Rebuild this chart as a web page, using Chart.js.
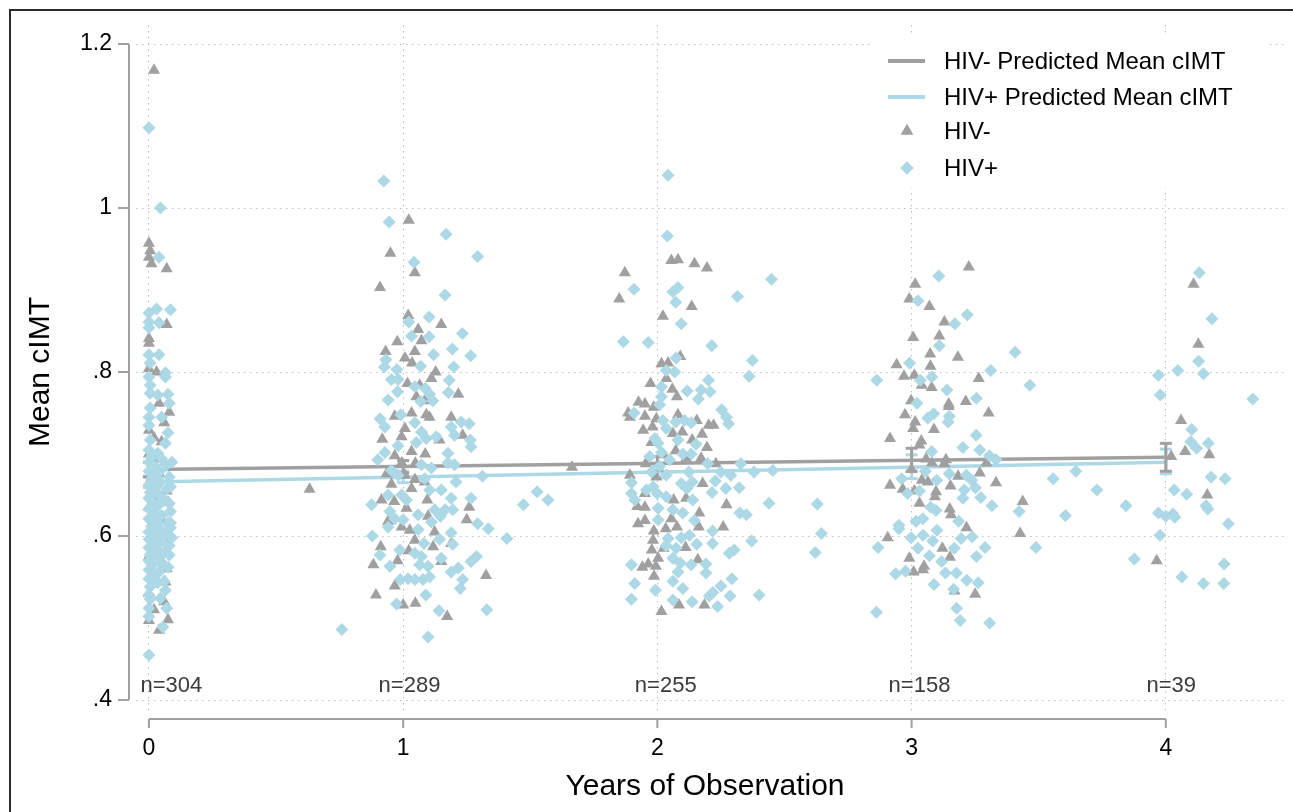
<!DOCTYPE html>
<html>
<head>
<meta charset="utf-8">
<script src="https://cdn.jsdelivr.net/npm/chart.js@4.4.1/dist/chart.umd.min.js"></script>
<style>
  body { margin: 0; background: #fff; }
  #wrap { width: 1293px; height: 812px; }
</style>
</head>
<body>
<div id="wrap"><canvas id="grafico" width="1293" height="812"></canvas></div>
<script>
// ticks and labels
var yearTicks = [0, 1, 2, 3, 4];
var yTicks = [0.4, 0.6, 0.8, 1.0, 1.2];
var yTickLabels = ['.4', '.6', '.8', '1', '1.2'];
var nLabels = ['n=304', 'n=289', 'n=255', 'n=158', 'n=39'];
var nLabelX = [0.088, 1.025, 2.033, 3.031, 4.021];

// predicted mean cIMT (line ends) and confidence intervals per year
var predNeg = [0.681, 0.696];
var predPos = [0.666, 0.690];
var ciNegLow = [0.672, 0.677, 0.680, 0.679, 0.679];
var ciNegHigh = [0.690, 0.692, 0.697, 0.707, 0.713];
var ciPosLow = [0.659, 0.665, 0.671, 0.670, 0.676];
var ciPosHigh = [0.673, 0.679, 0.685, 0.699, 0.706];

// HIV- observations [year, cIMT]
var hivNegY0 = [[0.02,1.168],[0.0,0.957],[0.005,0.948],[0.0,0.940],[0.01,0.932],[0.07,0.926],[0.07,0.858],[0.0,0.841],[0.0,0.835],[0.0,0.804],[0.03,0.800],[0.04,0.762],[0.08,0.751],[0.06,0.738],[0.0,0.729],[0.02,0.72],[0.05,0.715],[0.0,0.70],[0.03,0.694],[0.06,0.688],[0.01,0.682],[0.04,0.676],[0.0,0.665],[0.07,0.655],[0.02,0.648],[0.075,0.641],[0.0,0.635],[0.05,0.62],[0.01,0.608],[0.06,0.598],[0.03,0.585],[0.0,0.575],[0.07,0.56],[0.065,0.544],[0.0,0.53],[0.06,0.52],[0.075,0.498],[0.0,0.497],[0.04,0.485],[0.02,0.51]];
var hivNegY1 = [[1.022,0.985],[0.950,0.945],[1.046,0.921],[0.909,0.903],[1.020,0.869],[1.150,0.858],[1.059,0.852],[0.977,0.837],[1.072,0.838],[0.931,0.825],[1.007,0.817],[1.046,0.825],[1.035,0.811],[1.128,0.800],[1.111,0.792],[1.017,0.786],[1.065,0.784],[1.217,0.773],[1.052,0.770],[1.085,0.765],[0.967,0.746],[1.033,0.750],[1.091,0.748],[1.104,0.745],[1.189,0.745],[1.007,0.731],[0.918,0.718],[0.994,0.721],[1.143,0.717],[1.234,0.723],[1.033,0.703],[1.087,0.700],[0.967,0.698],[0.994,0.689],[1.048,0.689],[0.935,0.676],[1.007,0.674],[1.046,0.669],[1.085,0.666],[0.632,0.657],[0.954,0.663],[1.033,0.658],[0.915,0.644],[0.965,0.642],[1.095,0.644],[1.260,0.635],[1.013,0.634],[1.098,0.624],[1.250,0.620],[0.941,0.618],[0.994,0.611],[1.026,0.607],[1.124,0.605],[1.046,0.595],[0.912,0.587],[1.118,0.587],[1.189,0.591],[1.022,0.582],[0.883,0.565],[0.978,0.570],[1.150,0.569],[1.326,0.552],[0.967,0.539],[0.893,0.528],[1.000,0.516],[1.048,0.518],[1.173,0.502]];
var hivNegY2 = [[1.664,0.684],[1.872,0.921],[1.850,0.889],[2.055,0.936],[2.081,0.937],[2.146,0.932],[2.195,0.927],[2.135,0.880],[2.022,0.868],[2.090,0.819],[2.016,0.810],[2.042,0.811],[2.035,0.792],[1.973,0.786],[2.059,0.779],[2.077,0.770],[1.926,0.763],[1.951,0.761],[1.986,0.757],[1.885,0.750],[1.892,0.745],[1.951,0.746],[1.996,0.743],[2.081,0.748],[2.155,0.741],[2.202,0.735],[2.221,0.735],[1.944,0.729],[1.981,0.733],[2.061,0.725],[2.098,0.727],[2.176,0.724],[1.977,0.714],[2.137,0.717],[2.195,0.708],[2.072,0.704],[2.025,0.699],[2.113,0.695],[2.172,0.695],[1.954,0.688],[2.230,0.688],[1.892,0.674],[1.996,0.672],[2.178,0.664],[1.951,0.652],[1.921,0.636],[1.951,0.635],[2.064,0.644],[2.113,0.646],[2.165,0.628],[2.272,0.638],[1.924,0.615],[1.951,0.619],[1.986,0.606],[2.033,0.609],[2.055,0.621],[2.077,0.611],[2.163,0.611],[2.259,0.611],[1.983,0.595],[2.025,0.585],[2.111,0.586],[1.978,0.583],[2.003,0.573],[2.159,0.571],[1.941,0.562],[1.964,0.566],[1.994,0.563],[1.987,0.551],[2.085,0.516],[2.185,0.516],[2.016,0.508]];
var hivNegY3 = [[3.225,0.928],[3.014,0.907],[2.991,0.889],[3.070,0.880],[3.129,0.861],[3.006,0.842],[3.109,0.844],[3.073,0.822],[3.182,0.818],[2.941,0.809],[3.074,0.807],[2.970,0.795],[3.011,0.796],[3.040,0.784],[3.079,0.781],[3.264,0.792],[2.998,0.765],[3.146,0.761],[3.146,0.758],[3.213,0.764],[3.303,0.750],[2.974,0.748],[3.014,0.739],[3.006,0.731],[3.088,0.730],[2.915,0.719],[3.038,0.716],[3.031,0.711],[3.057,0.694],[3.080,0.689],[3.135,0.693],[3.129,0.688],[3.294,0.689],[2.999,0.681],[3.183,0.673],[3.268,0.677],[3.040,0.668],[3.064,0.666],[2.915,0.662],[2.965,0.657],[3.153,0.661],[3.332,0.665],[3.011,0.655],[3.096,0.654],[3.092,0.648],[3.031,0.640],[3.150,0.633],[3.155,0.626],[3.437,0.642],[3.216,0.610],[2.906,0.598],[3.427,0.603],[3.121,0.585],[3.151,0.574],[2.991,0.573],[3.049,0.563],[3.008,0.556],[3.045,0.559],[3.169,0.533],[3.250,0.529]];
var hivNegY4 = [[4.109,0.907],[4.128,0.834],[4.060,0.741],[4.076,0.703],[4.021,0.697],[4.171,0.699],[4.163,0.650],[3.964,0.570]];

// HIV+ observations [year, cIMT]
var hivPosY0 = [[0.0,1.098],[0.045,1.0],[0.04,0.940],[0.0,0.872],[0.03,0.877],[0.085,0.876],[0.0,0.861],[0.0,0.854],[0.04,0.860],[0.0,0.821],[0.04,0.821],[0.005,0.811],[0.065,0.799],[0.065,0.794],[0.0,0.794],[0.005,0.784],[0.005,0.774],[0.035,0.772],[0.075,0.773],[0.08,0.762],[0.005,0.756],[0.0,0.745],[0.05,0.745],[0.0,0.735],[0.075,0.726],[0.065,0.713],[0.005,0.717],[0.0,0.705],[0.035,0.701],[0.01,0.697],[0.05,0.694],[0.0,0.690],[0.02,0.686],[0.06,0.684],[0.0,0.679],[0.035,0.676],[0.08,0.672],[0.01,0.670],[0.045,0.666],[0.0,0.662],[0.025,0.659],[0.07,0.657],[0.005,0.653],[0.04,0.650],[0.0,0.646],[0.06,0.644],[0.015,0.641],[0.035,0.637],[0.0,0.633],[0.085,0.630],[0.02,0.628],[0.05,0.625],[0.0,0.621],[0.03,0.618],[0.075,0.616],[0.01,0.612],[0.045,0.609],[0.0,0.605],[0.065,0.603],[0.025,0.600],[0.0,0.596],[0.05,0.594],[0.015,0.591],[0.08,0.588],[0.0,0.586],[0.035,0.583],[0.06,0.580],[0.005,0.577],[0.03,0.574],[0.0,0.570],[0.05,0.568],[0.015,0.565],[0.075,0.562],[0.0,0.559],[0.04,0.556],[0.02,0.552],[0.0,0.548],[0.06,0.545],[0.035,0.543],[0.005,0.538],[0.065,0.534],[0.0,0.528],[0.045,0.524],[0.005,0.523],[0.0,0.512],[0.07,0.512],[0.0,0.502],[0.055,0.489],[0.0,0.455],[0.09,0.69],[0.085,0.66],[0.08,0.64],[0.085,0.61],[0.09,0.598],[0.08,0.577],[0.085,0.616]];
var hivPosY1 = [[0.924,1.033],[0.945,0.983],[1.169,0.968],[1.043,0.934],[1.293,0.941],[1.165,0.894],[1.102,0.867],[1.022,0.861],[1.033,0.844],[1.233,0.847],[1.102,0.843],[1.120,0.821],[1.194,0.828],[1.266,0.820],[0.932,0.815],[0.926,0.806],[1.069,0.807],[0.975,0.803],[1.199,0.806],[0.954,0.791],[0.980,0.791],[1.181,0.790],[1.046,0.782],[1.087,0.780],[0.978,0.776],[1.178,0.775],[0.941,0.766],[1.069,0.764],[1.104,0.773],[1.117,0.765],[0.909,0.743],[0.928,0.733],[0.991,0.748],[1.046,0.738],[1.072,0.727],[1.130,0.721],[1.189,0.733],[1.228,0.739],[1.260,0.737],[1.202,0.723],[1.264,0.717],[1.267,0.709],[0.980,0.710],[1.052,0.714],[1.091,0.719],[0.900,0.693],[0.928,0.702],[1.176,0.701],[1.176,0.689],[1.202,0.687],[0.954,0.680],[0.980,0.674],[1.072,0.687],[1.111,0.683],[1.312,0.673],[1.085,0.670],[1.208,0.666],[1.104,0.656],[1.150,0.656],[0.941,0.650],[0.994,0.650],[1.013,0.644],[0.876,0.638],[1.189,0.646],[1.267,0.646],[0.948,0.630],[1.124,0.632],[1.165,0.632],[1.195,0.632],[0.967,0.621],[1.000,0.620],[1.059,0.626],[1.111,0.617],[1.147,0.624],[1.293,0.615],[1.335,0.609],[1.408,0.597],[0.879,0.600],[0.941,0.611],[1.059,0.608],[1.143,0.596],[1.189,0.604],[1.082,0.591],[1.195,0.590],[0.909,0.577],[0.948,0.563],[0.987,0.583],[1.046,0.579],[1.072,0.575],[1.150,0.573],[1.065,0.565],[1.098,0.563],[1.217,0.561],[1.267,0.569],[1.289,0.575],[0.988,0.547],[1.019,0.548],[1.046,0.547],[1.078,0.547],[1.104,0.550],[1.189,0.556],[1.234,0.547],[1.225,0.536],[1.089,0.528],[0.974,0.517],[1.141,0.509],[1.329,0.510],[0.759,0.486],[1.098,0.477],[1.473,0.638],[1.527,0.654],[1.570,0.644]];
var hivPosY2 = [[2.042,1.040],[2.039,0.966],[2.449,0.913],[1.908,0.901],[2.061,0.898],[2.081,0.903],[2.072,0.885],[2.315,0.892],[2.094,0.859],[1.866,0.837],[1.964,0.836],[2.214,0.832],[2.374,0.814],[2.074,0.817],[2.035,0.802],[2.068,0.800],[2.361,0.795],[2.201,0.790],[2.117,0.777],[2.172,0.778],[2.207,0.776],[2.161,0.767],[2.016,0.782],[2.016,0.770],[2.009,0.760],[2.253,0.754],[2.272,0.745],[2.280,0.737],[1.908,0.750],[2.022,0.741],[2.072,0.739],[2.107,0.741],[2.133,0.738],[2.035,0.731],[1.990,0.719],[2.081,0.717],[2.003,0.713],[2.152,0.712],[2.016,0.702],[2.100,0.700],[2.133,0.700],[1.970,0.697],[2.048,0.693],[2.198,0.688],[2.328,0.688],[2.009,0.685],[1.977,0.678],[2.124,0.678],[2.250,0.678],[2.380,0.678],[2.454,0.680],[2.035,0.674],[2.289,0.674],[1.898,0.665],[2.094,0.664],[2.137,0.666],[2.228,0.667],[1.983,0.660],[2.116,0.658],[2.269,0.658],[2.322,0.659],[1.898,0.652],[1.957,0.656],[1.999,0.652],[2.035,0.648],[2.215,0.653],[1.911,0.644],[2.139,0.644],[2.439,0.640],[2.003,0.634],[2.061,0.632],[2.100,0.628],[2.324,0.628],[2.350,0.626],[2.003,0.620],[2.146,0.619],[2.042,0.597],[2.094,0.598],[2.126,0.601],[2.217,0.606],[2.155,0.590],[2.217,0.591],[2.371,0.594],[2.035,0.588],[2.074,0.585],[2.283,0.579],[2.302,0.583],[1.898,0.565],[2.061,0.573],[2.090,0.567],[2.133,0.565],[2.191,0.566],[2.191,0.555],[2.081,0.556],[1.911,0.542],[2.061,0.545],[2.100,0.536],[1.992,0.534],[2.218,0.531],[2.250,0.539],[2.293,0.548],[2.286,0.527],[2.400,0.528],[2.204,0.527],[1.898,0.523],[2.061,0.522],[2.137,0.520],[2.237,0.514],[2.629,0.639],[2.645,0.603],[2.621,0.580]];
var hivPosY3 = [[3.107,0.917],[3.025,0.887],[3.219,0.870],[3.170,0.859],[3.109,0.832],[3.407,0.824],[2.992,0.811],[3.311,0.802],[2.863,0.790],[3.034,0.790],[3.080,0.794],[3.465,0.784],[3.139,0.778],[3.255,0.768],[3.021,0.762],[3.064,0.744],[3.087,0.749],[3.148,0.746],[3.144,0.739],[3.254,0.723],[3.202,0.708],[3.268,0.705],[3.079,0.703],[3.306,0.698],[3.332,0.693],[2.961,0.670],[3.054,0.679],[3.099,0.668],[3.148,0.676],[3.215,0.674],[3.237,0.668],[3.251,0.659],[3.557,0.670],[3.646,0.679],[3.729,0.656],[2.984,0.652],[3.031,0.655],[3.207,0.656],[3.202,0.646],[3.272,0.647],[3.316,0.637],[3.075,0.635],[3.096,0.631],[3.423,0.630],[3.605,0.625],[3.185,0.618],[3.017,0.618],[3.044,0.621],[2.950,0.613],[2.950,0.609],[3.100,0.607],[3.045,0.601],[2.998,0.598],[3.195,0.597],[3.238,0.599],[3.083,0.594],[2.868,0.586],[3.025,0.585],[3.168,0.585],[3.289,0.586],[3.489,0.586],[3.070,0.576],[3.255,0.575],[3.118,0.569],[2.937,0.554],[2.976,0.557],[3.133,0.555],[3.176,0.555],[3.217,0.546],[3.262,0.543],[3.088,0.541],[3.165,0.535],[2.862,0.507],[3.177,0.512],[3.191,0.497],[3.307,0.494]];
var hivPosY4 = [[4.132,0.921],[4.181,0.865],[4.129,0.813],[4.047,0.802],[3.971,0.796],[4.148,0.798],[3.978,0.772],[4.342,0.767],[4.102,0.730],[4.098,0.715],[4.121,0.707],[4.167,0.713],[4.178,0.672],[4.233,0.670],[4.033,0.656],[4.082,0.651],[3.843,0.637],[4.158,0.637],[4.165,0.633],[3.971,0.628],[4.0,0.624],[4.028,0.627],[4.035,0.623],[4.246,0.615],[3.977,0.601],[3.876,0.572],[4.229,0.566],[4.063,0.550],[4.148,0.542],[4.228,0.542]];

var cinza = '#a0a0a0';
var azul = '#add8e6';
var fonte = '"Liberation Sans", Arial, Helvetica, sans-serif';

function pontos(lista) {
    return lista.map(function (p) { return { x: p[0], y: p[1] }; });
}

function intervalos(lo, hi) {
    var d = [];
    for (var i = 0; i < yearTicks.length; i++) {
        d.push({ x: yearTicks[i], y: lo[i] });
        d.push({ x: yearTicks[i], y: hi[i] });
        d.push({ x: yearTicks[i], y: null });
    }
    return d;
}

var hivNeg = [].concat(hivNegY0, hivNegY1, hivNegY2, hivNegY3, hivNegY4);
var hivPos = [].concat(hivPosY0, hivPosY1, hivPosY2, hivPosY3, hivPosY4);

// eixos no estilo do Stata, desenhados a partir das escalas
var eixos = {
    id: 'eixos',
    afterDraw: function (chart) {
        var ctx = chart.ctx, a = chart.chartArea;
        var xs = chart.scales.x, ys = chart.scales.y;
        ctx.save();

        // moldura
        ctx.strokeStyle = '#2a2a2a';
        ctx.lineWidth = 2;
        ctx.strokeRect(10, 10, chart.width + 20, chart.height + 20);

        ctx.strokeStyle = cinza;
        ctx.lineWidth = 2;
        // eixo y
        var ax = a.left - 7;
        ctx.beginPath();
        ctx.moveTo(ax, ys.getPixelForValue(yTicks[0]));
        ctx.lineTo(ax, ys.getPixelForValue(yTicks[yTicks.length - 1]));
        ctx.stroke();
        ctx.fillStyle = '#000';
        ctx.font = '23px ' + fonte;
        ctx.textAlign = 'right';
        ctx.textBaseline = 'middle';
        yTicks.forEach(function (v, i) {
            var py = ys.getPixelForValue(v);
            ctx.beginPath();
            ctx.moveTo(ax - 11, py);
            ctx.lineTo(ax, py);
            ctx.stroke();
            ctx.fillText(yTickLabels[i], ax - 17, py);
        });

        // eixo x
        var ay = a.bottom + 7;
        ctx.beginPath();
        ctx.moveTo(xs.getPixelForValue(yearTicks[0]), ay);
        ctx.lineTo(xs.getPixelForValue(yearTicks[yearTicks.length - 1]), ay);
        ctx.stroke();
        ctx.textAlign = 'center';
        yearTicks.forEach(function (v) {
            var px = xs.getPixelForValue(v);
            ctx.beginPath();
            ctx.moveTo(px, ay);
            ctx.lineTo(px, ay + 9);
            ctx.stroke();
            ctx.fillText(String(v), px, ay + 30);
        });

        // n= por ano
        ctx.fillStyle = '#3a3a3a';
        ctx.font = '22px ' + fonte;
        nLabels.forEach(function (t, i) {
            ctx.fillText(t, xs.getPixelForValue(nLabelX[i]), ys.getPixelForValue(0.417));
        });

        // titulos
        ctx.fillStyle = '#000';
        ctx.font = '30px ' + fonte;
        ctx.fillText('Years of Observation', 705, 787);
        ctx.save();
        ctx.translate(41, (ys.getPixelForValue(yTicks[0]) + ys.getPixelForValue(yTicks[yTicks.length - 1])) / 2);
        ctx.rotate(-Math.PI / 2);
        ctx.fillText('Mean cIMT', 0, 0);
        ctx.restore();

        // legenda
        ctx.fillStyle = '#fff';
        ctx.fillRect(873, 36, 396, 152);
        var itens = [
            { t: 'HIV- Predicted Mean cIMT', tipo: 'linha', cor: cinza },
            { t: 'HIV+ Predicted Mean cIMT', tipo: 'linha', cor: azul },
            { t: 'HIV-', tipo: 'triangle', cor: cinza },
            { t: 'HIV+', tipo: 'rectRot', cor: azul }
        ];
        var linhasY = [61, 97, 131, 168];
        ctx.font = '24px ' + fonte;
        ctx.textAlign = 'left';
        itens.forEach(function (it, i) {
            var yy = linhasY[i];
            if (it.tipo === 'linha') {
                ctx.strokeStyle = it.cor;
                ctx.lineWidth = 4;
                ctx.beginPath();
                ctx.moveTo(888, yy);
                ctx.lineTo(925, yy);
                ctx.stroke();
            } else {
                ctx.fillStyle = it.cor;
                Chart.helpers.drawPoint(ctx, { pointStyle: it.tipo, radius: it.tipo === 'triangle' ? 7 : 6.5, borderWidth: 0, rotation: 0 }, 907, yy);
                ctx.fill();
            }
            ctx.fillStyle = '#000';
            ctx.fillText(it.t, 944, yy + 1);
        });
        ctx.restore();
    }
};

var ctx = document.getElementById('grafico').getContext('2d');
var meuGrafico = new Chart(ctx, {
    type: 'scatter',
    data: {
        datasets: [
            {
                label: 'HIV+',
                data: pontos(hivPos),
                pointStyle: 'rectRot',
                pointRadius: 6.5,
                backgroundColor: azul,
                borderWidth: 0,
                pointBorderWidth: 0,
                order: 0
            },
            {
                label: 'HIV-',
                data: pontos(hivNeg),
                pointStyle: 'triangle',
                pointRadius: 7,
                backgroundColor: cinza,
                borderWidth: 0,
                pointBorderWidth: 0,
                order: 1
            },
            {
                type: 'line',
                label: 'HIV- CI',
                data: intervalos(ciNegLow, ciNegHigh),
                borderColor: cinza,
                borderWidth: 3,
                pointStyle: 'line',
                pointRadius: 6,
                pointBorderWidth: 3,
                pointBorderColor: cinza,
                spanGaps: false,
                order: 2
            },
            {
                type: 'line',
                label: 'HIV+ CI',
                data: intervalos(ciPosLow, ciPosHigh),
                borderColor: azul,
                borderWidth: 3,
                pointStyle: 'line',
                pointRadius: 6,
                pointBorderWidth: 3,
                pointBorderColor: azul,
                spanGaps: false,
                order: 2
            },
            {
                type: 'line',
                label: 'HIV- Predicted Mean cIMT',
                data: [{ x: yearTicks[0], y: predNeg[0] }, { x: yearTicks[4], y: predNeg[1] }],
                borderColor: cinza,
                borderWidth: 3.5,
                pointRadius: 0,
                order: 3
            },
            {
                type: 'line',
                label: 'HIV+ Predicted Mean cIMT',
                data: [{ x: yearTicks[0], y: predPos[0] }, { x: yearTicks[4], y: predPos[1] }],
                borderColor: azul,
                borderWidth: 3.5,
                pointRadius: 0,
                order: 3
            }
        ]
    },
    options: {
        responsive: false,
        devicePixelRatio: 1,
        animation: false,
        events: [],
        layout: { padding: { left: 136, right: 1, top: 25, bottom: 100 } },
        plugins: { legend: { display: false }, tooltip: { enabled: false } },
        scales: {
            x: {
                type: 'linear',
                min: -0.0508,
                max: 4.4648,
                afterBuildTicks: function (s) { s.ticks = yearTicks.map(function (v) { return { value: v }; }); },
                ticks: { display: false },
                border: { display: false, dash: [1.5, 4.5] },
                grid: { color: '#bdbdbd', lineWidth: 1, drawTicks: false }
            },
            y: {
                type: 'linear',
                min: 0.3854,
                max: 1.2232,
                afterBuildTicks: function (s) { s.ticks = yTicks.map(function (v) { return { value: v }; }); },
                ticks: { display: false },
                border: { display: false, dash: [1.5, 4.5] },
                grid: { color: '#bdbdbd', lineWidth: 1, drawTicks: false }
            }
        }
    },
    plugins: [eixos]
});
</script>
</body>
</html>
